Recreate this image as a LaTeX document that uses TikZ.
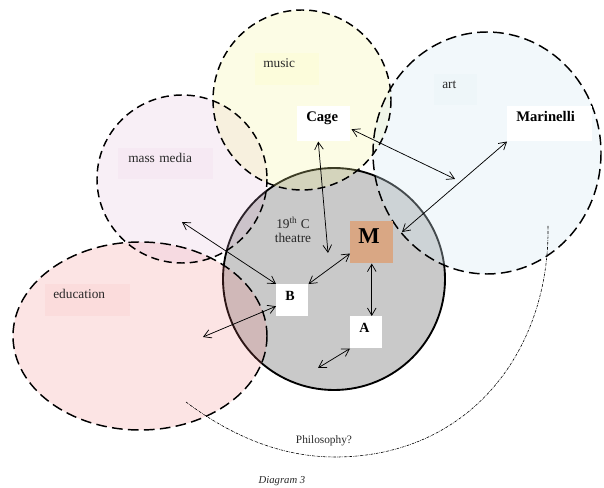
\documentclass[tikz,border=0pt]{standalone}
\usepackage{fontspec}
\setmainfont{Liberation Serif}
\usetikzlibrary{arrows.meta}
\definecolor{theatrec}{RGB}{201,201,201}
\definecolor{musicc}{RGB}{245,245,150}
\definecolor{artc}{RGB}{214,233,242}
\definecolor{mediac}{RGB}{220,175,210}
\definecolor{educ}{RGB}{239,113,113}
\definecolor{mboxc}{RGB}{217,167,132}
\definecolor{labeltext}{RGB}{40,40,40}
\begin{document}
\begin{tikzpicture}[x=0.75pt,y=-0.75pt,
  rel/.style={line width=0.55pt,{Straight Barb[length=5.5pt,width=6.5pt]}-{Straight Barb[length=5.5pt,width=6.5pt]}},
  zoneshort/.style={line width=1.1pt,dash pattern=on 6pt off 3.75pt},
  zonelong/.style={line width=1.1pt,dash pattern=on 8pt off 4pt},
  zonelabel/.style={anchor=north west,inner ysep=0pt,text height=10.5pt,text depth=13.5pt,
    align=left,text=labeltext,font=\fontsize{10}{12}\selectfont,text opacity=1},
  actor/.style={anchor=north west,fill=white,inner ysep=3pt,text height=8.25pt,text depth=12pt,
    align=left,font=\fontsize{11}{13}\selectfont\bfseries,inner xsep=6.75pt},
  smallactor/.style={anchor=north west,fill=white,inner ysep=0pt,text height=12pt,text depth=12pt,
    align=left,font=\fontsize{10.5}{12}\selectfont\bfseries,inner xsep=6.75pt,text width=10.5pt},
  philo/.style={line width=0.45pt,dash pattern=on 2pt off 0.8pt on 0.4pt off 0.8pt}
]
\useasboundingbox (0,0) rectangle (604,488);

% theatre circle (underneath)
\draw[fill=theatrec,line width=1.4pt] (334,279) circle [radius=111];

% translucent zones
\fill[educ,fill opacity=0.19] (140,336) ellipse [x radius=127,y radius=94];
\fill[mediac,fill opacity=0.2] (182,179) ellipse [x radius=85,y radius=84];
\fill[musicc,fill opacity=0.25] (302,100) ellipse [x radius=89,y radius=90];
\fill[artc,fill opacity=0.32] (487,153) ellipse [x radius=114,y radius=121];

% dashed borders
\draw[zonelong] (140,336) ellipse [x radius=127,y radius=94];
\draw[zoneshort] (182,179) ellipse [x radius=85,y radius=84];
\draw[zoneshort] (302,100) ellipse [x radius=89,y radius=90];
\draw[zonelong] (487,153) ellipse [x radius=114,y radius=121];

% zone labels
\node[zonelabel,fill=musicc,fill opacity=0.12,inner xsep=6pt,text width=36pt] (musiclbl) at (255,53) {music};
\node[zonelabel,fill=artc,fill opacity=0.15,inner xsep=6pt,text width=20.25pt,text depth=12.75pt] (artlbl) at (434,74) {art};
\node[zonelabel,fill=mediac,fill opacity=0.09,inner xsep=7.5pt,text width=56.25pt,text depth=12.75pt] (medialbl) at (118,148) {mass media};
\node[zonelabel,fill=educ,fill opacity=0.07,inner xsep=6pt,text width=51.75pt] (edulbl) at (45,284) {education};
\node[align=center,text=labeltext,font=\fontsize{10}{10.5}\selectfont] (theatrelbl) at (293,230) {19\textsuperscript{th} C\\theatre};

% actors
\node[actor,text width=26.25pt] (Cage) at (297,106) {Cage};
\node[actor,text width=50.25pt] (Marinelli) at (507,106) {Marinelli};
\node[anchor=north west,fill=mboxc,inner xsep=6pt,inner ysep=0pt,text width=20.25pt,
      text height=16.5pt,text depth=15pt,align=left,font=\fontsize{17}{19}\selectfont\bfseries] (M) at (350,221) {M};
\node[smallactor] (B) at (276,284) {B};
\node[smallactor] (A) at (350,316) {A};

% free ends
\coordinate (c1) at (328,253);
\coordinate (c2) at (455,179);
\coordinate (c3) at (402,232);
\coordinate (c4) at (182,222);
\coordinate (c5) at (203,337);
\coordinate (c6) at (318,368);

\draw[rel] ([shift={(-5.5,0)}]Cage.south) -- (c1);
\draw[rel] ([shift={(1,5.5)}]Cage.east) -- (c2);
\draw[rel] (Marinelli.south west) -- (c3);
\draw[rel] ([shift={(0,-10)}]M.south west) -- (B.north east);
\draw[rel] (M.south) -- (M.south |- A.north);
\draw[rel] (c4) -- (B.north west);
\draw[rel] (c5) -- ([shift={(0,6)}]B.west);
\draw[rel] (c6) -- (A.south west);

% philosophy arc
\coordinate (p1) at (186,402);
\coordinate (p2) at (335,457);
\coordinate (p3) at (548,226);
\draw[philo] (p1) .. controls (230,435) and (280,457) .. (p2) .. controls (470,457) and (550,350) .. (p3);
\node[font=\fontsize{8.5}{10}\selectfont,text=labeltext] (philolbl) at (324,441) {Philosophy?};

\node[font=\fontsize{8}{9}\selectfont\itshape,text=labeltext] (caption) at (282,481) {Diagram 3};
\end{tikzpicture}
\end{document}
